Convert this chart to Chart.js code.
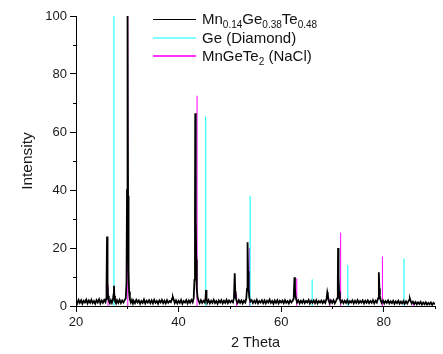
<!DOCTYPE html>
<html>
<head>
<meta charset="utf-8">
<script src="https://cdn.jsdelivr.net/npm/chart.js@4.4.1/dist/chart.umd.min.js"></script>
<style>
    body { margin: 0; background: #fff; }
    #wrap { position: relative; width: 443px; height: 354px; }
    #legend { position: absolute; left: 0; top: 0; font-family: 'Liberation Sans', Arial, sans-serif; font-size: 15px; color: #111; }
    .row { position: absolute; left: 153px; height: 18px; line-height: 18px; white-space: nowrap; }
    .swatch { position: absolute; left: 0; width: 43px; }
    .txt { position: absolute; left: 49px; top: 0; }
    sub { font-size: 10px; vertical-align: -4px; line-height: 0; }
</style>
</head>
<body>
<div id="wrap">
    <canvas id="xrdChart" width="443" height="354"></canvas>
    <div id="legend"></div>
</div>
<script>
// measured scan, [2theta, intensity]
const sampleScan = [
    [20.0,1.8],[20.25,0.9],[20.5,2.1],[20.75,1.1],[21.0,2.0],[21.25,0.8],[21.5,1.8],[21.75,1.2],[22.0,2.2],[22.25,0.9],
    [22.5,1.9],[22.75,1.1],[23.0,2.1],[23.25,1.0],[23.5,1.7],[23.75,0.8],[24.0,2.0],[24.25,1.2],[24.5,2.3],[24.75,0.9],
    [25.0,1.9],[25.25,1.1],[25.5,2.1],[25.75,1.4],[25.85,2.4],[25.95,6],[26.05,24],[26.15,8],[26.25,3.5],[26.4,1.8],
    [26.6,1.0],[26.8,2.0],[27.0,1.1],[27.2,2.2],[27.32,4],[27.4,7],[27.48,3.5],[27.6,1.6],[27.8,0.9],[28.0,2.0],
    [28.25,1.1],[28.5,2.1],[28.75,1.0],[29.0,1.9],[29.25,1.2],[29.5,2.1],[29.7,2.6],[29.85,8],[29.95,40],[30.05,100],
    [30.15,38],[30.25,12],[30.35,5],[30.5,2.4],[30.7,1.2],[30.9,2.1],[31.1,0.9],[31.25,1.8],[31.5,1.0],[31.75,2.1],
    [32.0,1.2],[32.25,1.9],[32.5,0.8],[32.75,1.7],[33.0,1.1],[33.25,2.2],[33.5,0.9],[33.75,1.8],[34.0,1.2],[34.25,2.0],
    [34.5,1.0],[34.75,1.9],[35.0,0.9],[35.25,2.1],[35.5,1.1],[35.75,1.7],[36.0,0.8],[36.25,1.9],[36.5,1.2],[36.75,2.1],
    [37.0,1.0],[37.25,1.8],[37.5,0.9],[37.75,2.0],[38.0,1.1],[38.25,1.7],[38.5,1.3],[38.75,2.6],[38.9,3.0],[39.05,2.2],
    [39.25,1.0],[39.5,1.9],[39.75,0.9],[40.0,1.8],[40.25,1.1],[40.5,2.1],[40.75,0.8],[41.0,1.7],[41.25,1.2],[41.5,2.0],
    [41.75,0.9],[42.0,1.9],[42.25,1.1],[42.5,2.1],[42.75,1.3],[42.95,2.8],[43.1,9],[43.2,30],[43.25,66.5],[43.35,30],
    [43.45,16],[43.55,6],[43.7,3],[43.9,1.8],[44.1,1.0],[44.35,2.0],[44.6,1.1],[44.85,1.8],[45.1,1.2],[45.25,2.5],
    [45.35,5.5],[45.45,2.6],[45.6,1.1],[45.85,2.0],[46.1,0.9],[46.35,1.8],[46.6,1.1],[46.85,2.1],[47.1,1.0],[47.35,1.7],
    [47.6,0.8],[47.85,1.9],[48.1,1.2],[48.35,2.0],[48.6,0.9],[48.85,1.8],[49.1,1.1],[49.35,2.1],[49.6,1.0],[49.85,1.9],
    [50.1,1.2],[50.35,1.8],[50.6,1.3],[50.8,2.8],[50.95,11.3],[51.05,5],[51.15,3],[51.3,1.8],[51.5,1.0],[51.75,2.0],
    [52.0,1.1],[52.25,1.9],[52.5,0.9],[52.75,1.8],[53.0,1.2],[53.2,2.5],[53.35,6],[53.45,22],[53.55,12],[53.65,6],
    [53.8,2.8],[54.0,1.5],[54.25,2.0],[54.5,1.0],[54.75,1.8],[55.0,1.1],[55.25,2.1],[55.5,0.9],[55.75,1.7],[56.0,1.2],
    [56.25,2.0],[56.5,1.0],[56.75,1.9],[57.0,0.9],[57.25,1.8],[57.5,1.2],[57.75,2.2],[58.0,1.1],[58.25,1.7],[58.5,0.8],
    [58.75,1.9],[59.0,1.1],[59.25,2.0],[59.5,0.9],[59.75,1.8],[60.0,1.2],[60.25,1.9],[60.5,1.0],[60.75,2.0],[61.0,1.1],
    [61.25,1.7],[61.5,0.9],[61.75,1.9],[62.0,1.2],[62.25,1.8],[62.45,2.6],[62.6,9.9],[62.7,6],[62.8,3.5],[62.95,2.2],
    [63.1,1.2],[63.35,1.9],[63.6,0.9],[63.85,1.8],[64.1,1.1],[64.35,2.0],[64.6,1.0],[64.85,1.7],[65.1,1.2],[65.35,2.1],
    [65.6,0.9],[65.85,1.8],[66.1,1.1],[66.35,1.9],[66.6,1.0],[66.85,2.0],[67.1,0.9],[67.35,1.7],[67.6,1.2],[67.85,1.9],
    [68.1,1.0],[68.35,1.8],[68.6,1.1],[68.85,2.4],[69.0,4.7],[69.1,3.8],[69.25,2.0],[69.45,1.0],[69.7,1.9],[69.95,1.1],
    [70.2,2.0],[70.45,0.9],[70.7,1.8],[70.9,2.6],[71.05,8],[71.1,20],[71.2,10],[71.3,5],[71.45,2.4],[71.65,1.2],
    [71.9,1.9],[72.15,1.0],[72.4,1.8],[72.65,1.1],[72.9,2.0],[73.15,0.9],[73.4,1.7],[73.65,1.2],[73.9,1.9],[74.15,0.9],
    [74.4,1.8],[74.65,1.1],[74.9,2.0],[75.15,1.0],[75.4,1.7],[75.65,1.2],[75.9,1.9],[76.15,0.9],[76.4,1.8],[76.65,1.1],
    [76.9,1.9],[77.15,1.0],[77.4,1.7],[77.65,1.1],[77.9,2.0],[78.15,0.9],[78.4,1.8],[78.65,1.2],[78.9,2.6],[79.05,11.6],
    [79.15,6],[79.25,3.5],[79.4,2.0],[79.6,1.1],[79.85,1.9],[80.1,0.9],[80.35,1.7],[80.6,1.1],[80.85,1.9],[81.1,0.9],
    [81.35,1.6],[81.6,1.0],[81.85,1.8],[82.1,0.8],[82.35,1.6],[82.6,1.0],[82.85,1.8],[83.1,0.8],[83.35,1.5],[83.6,0.9],
    [83.85,1.7],[84.1,0.8],[84.35,1.6],[84.6,0.9],[84.85,1.7],[85.0,2.2],[85.1,2.6],[85.25,1.8],[85.45,0.9],[85.7,1.5],
    [85.95,0.7],[86.2,1.4],[86.45,0.6],[86.7,1.3],[86.95,0.7],[87.2,1.4],[87.45,0.5],[87.7,1.2],[87.95,0.6],[88.2,1.3],
    [88.45,0.5],[88.7,1.1],[88.95,0.6],[89.2,1.2],[89.45,0.4],[89.7,1.1],[90.0,0.6]
];

// reference patterns (stick positions and relative intensities)
const geTheta = [27.4, 45.3, 53.95, 66.05, 73.0, 83.95];
const geIntensity = [100, 65.3, 38, 9.2, 14.1, 16.4];
const mgtTheta = [26.25, 30.1, 43.6, 51.3, 53.85, 63.05, 69.5, 71.6, 79.75, 85.75];
const mgtIntensity = [7, 100, 72.5, 4, 20, 9.5, 2.5, 25.3, 17.1, 1.5];

const legendLabels = [
    'Mn<sub>0.14</sub>Ge<sub>0.38</sub>Te<sub>0.48</sub>',
    'Ge (Diamond)',
    'MnGeTe<sub>2</sub> (NaCl)'
];
const seriesColors = ['#000000', '#00ffff', '#ff00ff'];

const xTicks = [20, 40, 60, 80];
const xMinorTicks = [30, 50, 70, 90];
const yTicks = [0, 20, 40, 60, 80, 100];
const yMinorTicks = [10, 30, 50, 70, 90];

const toSticks = (thetas, ints) => thetas.flatMap((t, i) => [
    { x: t, y: 0 }, { x: t, y: ints[i] }, { x: t, y: null }
]);

const minorTickPlugin = {
    id: 'minorTicks',
    afterDraw(chart) {
        const { ctx, scales: { x, y } } = chart;
        ctx.save();
        ctx.strokeStyle = '#000';
        ctx.lineWidth = 1;
        ctx.beginPath();
        xMinorTicks.forEach(v => {
            const px = Math.round(x.getPixelForValue(v)) + 0.5;
            ctx.moveTo(px, x.top);
            ctx.lineTo(px, x.top + 3);
        });
        yMinorTicks.forEach(v => {
            const py = Math.round(y.getPixelForValue(v)) + 0.5;
            ctx.moveTo(y.right - 3, py);
            ctx.lineTo(y.right, py);
        });
        ctx.stroke();
        ctx.restore();
    }
};

Chart.defaults.font.family = "'Liberation Sans', Arial, sans-serif";
Chart.defaults.color = '#1a1a1a';

const ctx = document.getElementById('xrdChart').getContext('2d');
new Chart(ctx, {
    type: 'line',
    data: {
        datasets: [
            {
                label: 'Mn0.14Ge0.38Te0.48',
                data: sampleScan.map(p => ({ x: p[0], y: p[1] })),
                borderColor: seriesColors[0],
                borderWidth: 1.8
            },
            {
                label: 'Ge (Diamond)',
                data: toSticks(geTheta, geIntensity),
                borderColor: seriesColors[1],
                borderWidth: 1
            },
            {
                label: 'MnGeTe2 (NaCl)',
                data: toSticks(mgtTheta, mgtIntensity),
                borderColor: seriesColors[2],
                borderWidth: 1
            }
        ]
    },
    options: {
        responsive: false,
        animation: false,
        spanGaps: false,
        elements: { point: { radius: 0 }, line: { tension: 0 } },
        layout: { padding: { top: 16, right: 8, left: 0, bottom: 0 } },
        plugins: { legend: { display: false }, tooltip: { enabled: false } },
        scales: {
            x: {
                type: 'linear',
                min: 20,
                max: 90,
                afterBuildTicks: s => { s.ticks = xTicks.map(v => ({ value: v })); },
                afterFit: s => { s.height = 48; },
                border: { color: '#000', width: 1 },
                grid: { drawOnChartArea: false, tickLength: 6, color: '#000' },
                ticks: { font: { size: 13 }, padding: 3, maxRotation: 0 },
                title: { display: true, text: '2 Theta', font: { size: 14.5 }, padding: { top: 0, bottom: 2 } }
            },
            y: {
                min: 0,
                max: 100,
                afterBuildTicks: s => { s.ticks = yTicks.map(v => ({ value: v })); },
                afterFit: s => { s.width = 76; },
                border: { color: '#000', width: 1 },
                grid: { drawOnChartArea: false, tickLength: 6, color: '#000' },
                ticks: { font: { size: 13 }, padding: 3 },
                title: { display: true, text: 'Intensity', font: { size: 15.5 }, padding: { top: 18, bottom: 0 } }
            }
        }
    },
    plugins: [minorTickPlugin]
});

// legend with subscripts
const legend = document.getElementById('legend');
const rowCentres = [19, 38, 56];
const swatchHeights = [1, 2, 1.5];
const swatchColors = ['#000000', '#80ffff', '#ff33ff'];
legendLabels.forEach((html, i) => {
    const row = document.createElement('div');
    row.className = 'row';
    row.style.top = (rowCentres[i] - 9) + 'px';
    const h = swatchHeights[i];
    row.innerHTML = `<span class="swatch" style="top:${9 - h / 2}px;height:${h}px;background:${swatchColors[i]}"></span><span class="txt">${html}</span>`;
    legend.appendChild(row);
});
</script>
</body>
</html>
